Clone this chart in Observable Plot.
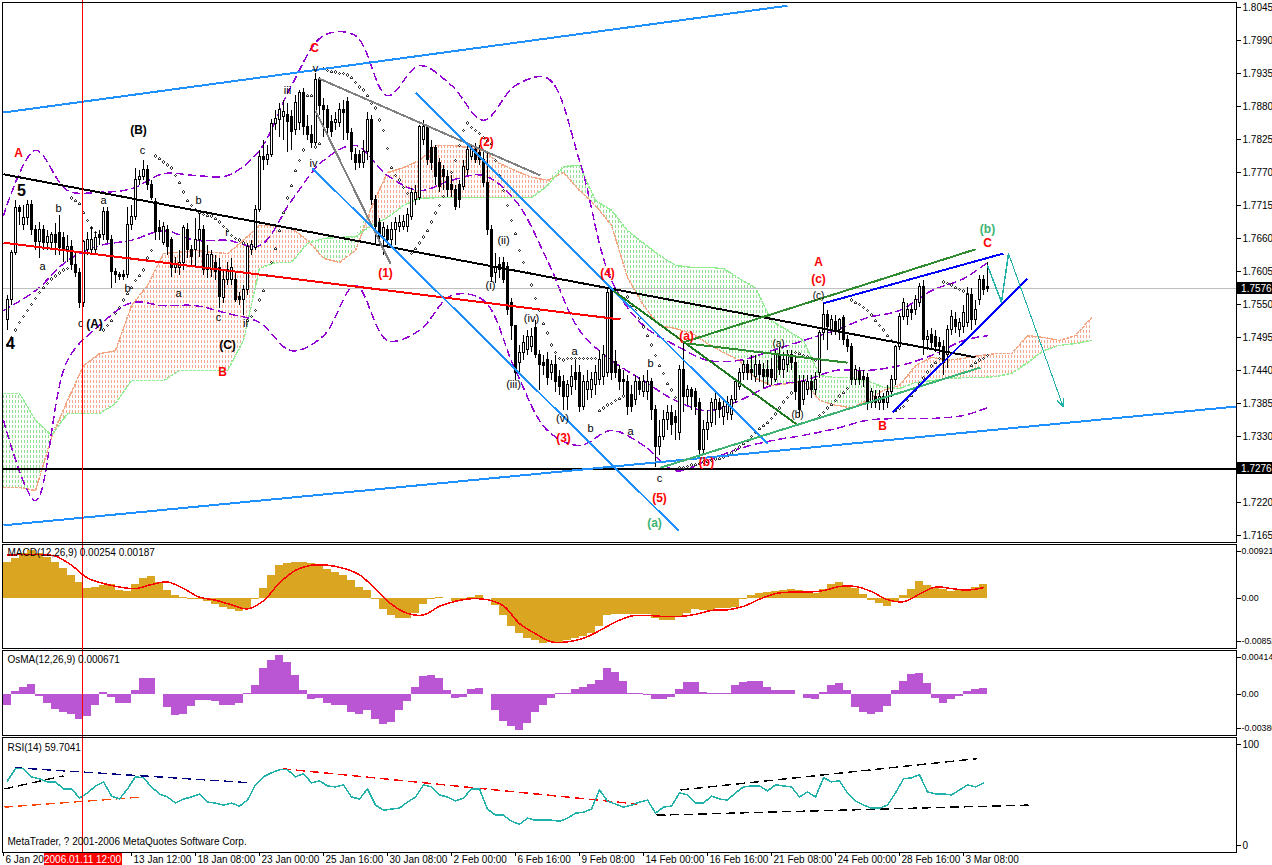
<!DOCTYPE html>
<html><head><meta charset="utf-8">
<script src="https://cdn.jsdelivr.net/npm/d3@7"></script>
<script src="https://cdn.jsdelivr.net/npm/@observablehq/plot@0.6"></script>
<style>
body{margin:0;background:#fff;}
#wrap{position:relative;width:1272px;height:865px;overflow:hidden;background:#fff;}
#wrap svg{position:absolute;left:0;}
</style></head><body><div id="wrap"></div>
<script>
// ---------- DATA (prices in pips above 1.7000; indicators in units of 0.0001) ----------
const BASE = 1.7;
const candleOpen = [524,557,636,711,682,694,715,674,654,674,652,652,665,669,660,640,645,615,602,552,640,640,640,665,665,704,657,604,599,599,599,682,695,757,762,774,749,720,677,652,674,657,610,610,619,674,640,640,657,674,607,607,619,610,560,590,590,590,562,557,574,640,644,707,795,790,799,850,857,862,865,862,840,852,902,845,832,819,924,880,874,854,852,852,874,887,835,799,799,785,804,857,724,685,662,674,657,674,679,679,679,695,724,727,824,845,810,810,785,774,762,749,740,749,745,774,795,807,802,790,752,674,602,615,619,612,552,514,452,469,474,479,510,465,452,457,435,449,429,420,395,412,435,435,379,407,407,415,424,429,435,574,454,440,424,420,399,390,420,404,404,420,374,312,329,357,369,362,335,440,395,407,404,385,307,340,352,374,385,362,369,365,390,412,435,449,440,429,449,440,440,440,424,465,440,449,465,452,420,390,407,420,407,435,502,532,507,520,507,527,490,479,424,437,429,427,385,395,385,395,385,404,424,479,529,529,540,540,552,579,490,499,495,485,479,465,507,524,507,512,519,565,524,557,590,579];
const candleHigh = [565,640,724,715,715,724,724,682,687,682,674,670,685,699,670,665,657,635,610,657,670,679,670,674,712,712,665,610,604,607,712,715,777,774,790,782,757,727,690,687,682,662,629,640,682,685,649,694,702,682,649,640,632,627,607,620,627,604,570,582,652,657,715,807,824,815,859,874,885,890,885,874,899,907,910,865,849,935,929,894,882,865,870,885,890,895,844,810,807,824,870,865,732,694,687,682,687,695,699,699,710,744,749,849,857,849,824,815,794,782,774,765,749,757,790,815,815,819,815,807,802,682,635,629,629,620,560,515,482,499,507,510,524,474,465,470,457,465,440,432,424,449,457,449,432,440,437,449,474,482,579,579,474,449,440,432,415,432,429,432,440,427,382,357,374,382,382,374,449,485,415,412,410,394,357,374,394,402,394,390,397,399,427,444,457,457,465,465,457,452,457,460,474,479,470,474,474,465,432,432,432,432,437,507,554,540,532,532,527,532,499,485,449,445,440,435,410,407,407,402,415,432,482,535,560,552,549,565,585,590,507,510,507,495,490,515,540,537,527,549,579,577,557,599,599,620];
const candleLow = [507,549,632,682,674,682,665,640,627,640,640,644,632,632,620,620,607,595,544,545,632,635,632,649,657,652,577,585,590,590,594,674,690,749,757,740,724,657,657,649,632,595,602,599,607,627,615,612,629,599,594,595,590,544,552,582,582,554,549,532,565,632,640,704,774,782,795,840,829,824,804,807,832,840,832,824,810,815,865,829,832,829,840,845,824,824,790,774,777,777,790,715,649,649,632,644,649,649,670,674,670,690,715,724,815,782,774,749,737,740,729,729,707,710,740,765,790,785,782,745,665,587,585,594,585,532,490,424,432,457,465,470,460,407,432,415,424,404,399,374,374,399,407,370,374,390,394,399,415,415,429,424,427,407,399,365,370,382,399,395,390,357,279,299,324,340,332,324,324,370,382,374,365,299,302,324,345,349,360,349,357,357,385,407,424,424,424,420,420,410,415,415,420,432,427,437,440,390,362,382,399,394,399,427,490,474,499,499,490,482,470,415,415,415,412,374,377,377,374,374,377,395,415,474,524,515,524,532,545,465,474,474,470,465,432,444,499,502,495,502,512,507,515,549,565,570];
const candleClose = [557,636,711,704,694,715,674,654,674,652,662,665,652,644,640,645,615,602,552,654,657,657,660,660,704,657,604,599,595,595,682,695,757,762,774,749,727,670,670,679,645,610,615,619,677,640,629,657,674,607,632,632,604,562,590,607,610,557,557,574,645,649,707,795,790,799,850,859,874,870,854,837,885,902,845,832,819,924,880,874,844,837,857,874,869,835,804,785,785,804,857,724,679,662,677,657,674,685,685,687,699,735,735,845,845,790,785,762,745,762,740,740,712,724,779,807,807,790,790,752,674,595,612,607,590,540,514,435,469,485,495,495,465,449,447,427,449,420,412,395,415,429,424,379,420,420,424,435,457,465,569,435,435,420,420,379,379,420,407,420,420,374,312,329,357,369,349,352,440,395,407,395,379,307,340,352,385,390,374,379,385,390,420,435,449,435,435,449,432,429,429,427,465,440,457,465,452,404,374,420,420,407,424,502,532,512,524,507,524,490,479,424,440,424,424,385,404,385,395,385,404,424,479,529,552,540,535,557,579,490,495,485,479,479,452,507,529,512,519,535,565,524,540,590,574,576];
const sarValues = [482,495,507,520,530,540,550,560,570,578,585,592,597,602,607,610,727,723,718,703,690,678,670,662,507,515,523,535,545,557,568,578,590,598,607,627,640,797,793,787,782,777,765,753,737,723,715,708,703,700,698,697,693,687,680,673,665,660,657,652,523,530,540,557,573,598,620,643,673,703,727,748,773,790,807,898,898,812,818,943,940,938,937,935,935,932,928,920,912,907,898,885,877,857,840,810,778,765,757,745,735,635,643,652,662,673,687,702,715,730,748,770,790,815,840,852,845,840,835,828,823,818,790,765,740,715,690,668,640,620,603,582,560,540,518,502,482,470,460,457,460,460,460,460,460,460,460,460,373,377,382,385,390,393,397,562,548,540,527,512,498,482,465,448,435,418,407,395,278,278,280,282,283,285,287,288,290,292,293,295,298,302,307,312,318,323,330,337,343,348,353,360,367,377,387,395,402,470,468,465,462,460,457,365,370,377,383,390,397,403,410,557,553,550,545,540,532,523,515,507,498,490,373,377,380,390,398,407,417,427,437,447,453,460,587,585,582,578,575,572,568,448,453,457,460,465];
const bandBars = [0,8,16,24,32,40,48,56,64,72,80,88,96,104,112,120,128,136,144,152,160,168,176,184,192,200,208,216,224,232,240,246];
const bandUpper = [698,807,740,737,743,768,765,765,807,915,998,998,898,948,915,857,915,927,790,590,515,482,457,457,473,490,507,528,540,573,593,620];
const bandMiddle = [540,573,623,648,657,673,657,657,648,723,790,815,765,740,757,765,723,623,507,457,423,390,373,390,415,423,440,440,448,465,490,498];
const bandLower = [357,223,457,515,553,548,548,535,520,473,498,582,490,507,565,557,440,340,315,340,315,273,290,310,323,332,343,357,360,360,365,378];
// Ichimoku spans, one value every 4 bars from bar 0
const cloudSpanA = [245,245,240,328,390,448,468,473,548,582,635,637,640,637,635,657,682,682,677,657,627,620,640,712,770,778,790,815,815,812,807,785,773,762,757,770,740,715,682,595,548,515,510,502,485,470,457,427,415,418,423,390,382,378,390,407,415,448,462,457,460,465,468,468,498,495,490,498,528];
const cloudSpanB = [402,402,357,332,368,368,368,385,423,423,423,440,440,440,440,490,610,620,620,652,660,662,663,682,695,715,727,728,728,728,728,728,728,728,748,780,782,723,707,673,652,632,615,612,612,610,593,578,523,507,490,432,428,428,423,412,410,420,423,427,428,428,430,435,453,473,482,485,490];
// indicator samples every 2 bars starting at bar 1
const macdMain = [71,78,88,94,88,81,71,58,45,30,20,22,26,28,15,14,28,38,43,30,15,5,2,-2,-3,-7,-12,-18,-22,-26,-20,-2,20,45,64,69,71,71,69,64,56,50,45,35,22,15,-3,-22,-35,-41,-40,-30,-12,-3,1,0,-6,-5,2,5,0,-14,-35,-55,-70,-80,-84,-90,-88,-87,-84,-80,-75,-70,-55,-35,-32,-32,-33,-33,-33,-40,-43,-43,-38,-30,-22,-25,-24,-21,-21,-18,-3,5,9,12,14,15,17,15,10,9,18,27,30,26,19,8,-4,-10,-16,-8,5,18,32,25,21,18,14,15,18,22,28];
// signal samples every 4 bars starting at bar 1
const macdSignal = [85,86,86,83,65,40,29,22,19,27,32,19,2,-4,-13,-21,-5,30,55,65,65,59,46,18,-12,-30,-33,-16,-6,-1,-3,-15,-50,-70,-86,-86,-79,-64,-47,-35,-34,-36,-36,-32,-24,-23,-16,-2,9,12,12,15,23,23,13,-3,-7,8,22,19,16,21];
const osmaValues = [-12,3,8,11,-2,-10,-17,-20,-22,-28,-25,-12,2,-3,-10,-10,5,18,18,0,-15,-24,-22,-14,-7,-7,-8,-12,-12,-10,1,10,29,38,44,36,21,5,-6,-4,-10,-12,-12,-20,-22,-18,-28,-34,-31,-18,-8,8,20,21,18,5,-4,-3,6,7,0,-18,-30,-36,-40,-32,-20,-12,-4,1,1,6,8,11,16,29,25,15,1,1,-1,-6,-6,-3,6,13,13,2,1,1,1,10,13,15,15,8,5,5,5,0,-5,-6,2,10,12,4,-15,-20,-22,-20,-14,5,14,22,24,12,-4,-10,-6,-2,3,6,7];
const rsiValues = [64,76,76,68,66,63,63,56,56,47,52,59,63,49,46,56,68,67,58,51,48,42,46,48,51,43,42,40,42,39,45,60,68,72,75,75,68,71,62,64,59,58,60,48,46,56,40,35,36,37,43,48,60,58,50,48,44,47,56,56,36,30,30,24,21,27,25,25,25,24,27,32,33,36,55,44,41,38,40,43,45,32,38,39,52,50,42,42,49,46,45,52,58,59,59,54,60,59,58,48,53,48,67,63,64,52,44,40,37,37,40,52,66,67,70,53,51,51,50,55,60,58,62];
const priceTicks = [1045,990,935,880,825,770,715,660,605,550,495,440,385,330,220,165];
const markedPrices = [576,276];
const timeTickBars = [0,16,32,48,64,80,96,112,128,144,160,176,192,208,224,240];
const timeLabelBars = [0,32,48,64,80,96,112,128,144,160,176,192,208,224,240];
const timeLabelText = ["6 Jan 2006","13 Jan 12:00","18 Jan 08:00","23 Jan 00:00","25 Jan 16:00","30 Jan 08:00","2 Feb 00:00","6 Feb 16:00","9 Feb 08:00","14 Feb 00:00","16 Feb 16:00","21 Feb 08:00","24 Feb 00:00","28 Feb 16:00","3 Mar 08:00"];
const cursorBar = 19.75;
const cursorText = "2006.01.11 12:00";
const trendAnchors = [
  ["channelTop",0,870,196,1048],["channelBottom",0,182,308.25,380],
  ["blackDiag",0,767,243,462],["redDiag",0,653,154.25,525],
  ["grayTop",78.75,927,134.25,765],["grayDrop",78,873,96.75,618],
  ["blueFall1",103,903,191,318],["blueFall2",77.25,777,168.75,173],
  ["greenFall",152.5,573,198.75,348],["greenRise",170,487,243,642],
  ["greenFlat",171,485,211,453],["greenBase",164.25,278,244.25,445],
  ["wedgeTop",205,552,250,635],["wedgeBottom",222.25,370,256,593]
];
const projection = [[246,615],[249.5,554],[251.25,635],[264.9,380]];
const rsiTrend = [
  ["navy",2.75,77,62,62],["black",0.25,56,15,69],["orange",0.25,38,34.5,48],
  ["red",69.75,76,158.5,41],["black",169.25,55,243.5,86],["black",163.25,30,256.25,40]
];
const waveLabels = [
  ["A",3.75,802,"red"],["5",4.5,740,"big"],["4",1.75,485,"big"],["(B)",33.75,840,"bold"],["c",34.75,807,"plain"],
  ["a",9.75,613,"plain"],["b",13.75,710,"plain"],["a",25,723,"plain"],["b",31,577,"plain"],["c",19.3,518,"plain"],
  ["(A)",22.75,518,"bold"],["b",48.75,723,"plain"],["a",43.75,568,"plain"],["c",53.75,528,"plain"],["(C)",56,482,"bold"],
  ["B",54.75,437,"red"],["i",55.75,670,"plain"],["ii",60.5,518,"plain"],["iii",71,907,"plain"],["iv",77.5,785,"plain"],
  ["v",78,943,"plain"],["C",77.75,977,"red"],["(1)",95.5,602,"red"],["(2)",120.75,820,"red"],["(i)",121.75,582,"plain"],
  ["(ii)",125,657,"plain"],["(iii)",127.5,417,"plain"],["(iv)",132,527,"plain"],["(v)",139.75,360,"plain"],["a",142.75,472,"plain"],
  ["b",146.75,343,"plain"],["(3)",140,328,"red"],["(4)",151,603,"red"],["b",161.75,452,"plain"],["a",156.75,338,"plain"],
  ["c",164,260,"plain"],["(5)",164,228,"red"],["(a)",162.75,185,"green"],["(a)",170.75,498,"red"],["(b)",175.75,287,"red"],
  ["(a)",193.75,485,"small"],["(b)",198.5,367,"small"],["(c)",203.75,565,"small"],["A",203.75,620,"red"],["(c)",203.75,593,"red"],
  ["B",219.75,348,"red"],["(b)",246,675,"green"],["C",246,653,"red"]
];

// ---------- DRAWING ----------
const W = 1272, xDomain = [-0.25, 308.25];
const FONT = '"Liberation Sans", Arial, sans-serif';
const baseStyle = {fontFamily: FONT, fontSize: "10px", background: "transparent", overflow: "visible", color: "black"};
const fmtP = v => (BASE + v / 10000).toFixed(4);
const fmtI = v => v === 0 ? "0.00" : (v / 10000).toFixed(5);
const wrap = document.getElementById("wrap");
function place(svg, top) { svg.style.top = top + "px"; svg.setAttribute("shape-rendering", "crispEdges"); wrap.appendChild(svg); return svg; }

const bars = candleClose.map((c, k) => ({i: k + 1, o: candleOpen[k], h: candleHigh[k], l: candleLow[k], c}));
const bodyLo = d => { const lo = Math.min(d.o, d.c), hi = Math.max(d.o, d.c); return hi - lo < 1 ? lo - 0.6 : lo; };
const bodyHi = d => { const lo = Math.min(d.o, d.c), hi = Math.max(d.o, d.c); return hi - lo < 1 ? hi + 0.6 : hi; };
const cloud = cloudSpanA.map((a, k) => ({i: k * 4, a, b: cloudSpanB[k]}));
const bands = bandBars.map((i, k) => ({i, u: bandUpper[k], m: bandMiddle[k], l: bandLower[k]}));
const sar = sarValues.map((v, k) => ({i: k + 1, v}));
const trendStyle = {
  channelTop: ["#1e90ff", 2], channelBottom: ["#1e90ff", 2], blackDiag: ["#000", 2], redDiag: ["#ff0000", 2],
  grayTop: ["#808080", 2], grayDrop: ["#808080", 2], blueFall1: ["#1e90ff", 2], blueFall2: ["#1e90ff", 2],
  greenFall: ["#1f7a1f", 2], greenRise: ["#2e8b2e", 2], greenFlat: ["#2e8b2e", 2], greenBase: ["#3cb371", 2],
  wedgeTop: ["#0000ff", 2], wedgeBottom: ["#0000ff", 2]
};
const labelStyle = {
  red: {fill: "#ff0000", fontWeight: "bold", fontSize: 12},
  big: {fill: "#000", fontWeight: "bold", fontSize: 16},
  bold: {fill: "#000", fontWeight: "bold", fontSize: 12},
  plain: {fill: "#000", fontSize: 11},
  small: {fill: "#000", fontSize: 10},
  green: {fill: "#3cb371", fontWeight: "bold", fontSize: 12}
};

const mainMarks = [
  Plot.areaY(cloud, {x: "i", y1: "b", y2: d => Math.max(d.a, d.b), fill: "url(#hatchSalmon)"}),
  Plot.areaY(cloud, {x: "i", y1: "a", y2: d => Math.max(d.a, d.b), fill: "url(#hatchGreen)"}),
  Plot.line(cloud, {x: "i", y: "a", stroke: "#f4a582", strokeDasharray: "2,2"}),
  Plot.line(cloud, {x: "i", y: "b", stroke: "#90ee90", strokeDasharray: "2,2"}),
  Plot.line(bands, {x: "i", y: "u", stroke: "#9400d3", strokeDasharray: "7,5", curve: "catmull-rom"}),
  Plot.line(bands, {x: "i", y: "m", stroke: "#9400d3", strokeDasharray: "7,5", curve: "catmull-rom"}),
  Plot.line(bands, {x: "i", y: "l", stroke: "#9400d3", strokeDasharray: "7,5", curve: "catmull-rom"}),
  Plot.ruleY([markedPrices[0]], {stroke: "#c0c0c0"}),
  Plot.ruleY([markedPrices[1]], {stroke: "#000", strokeWidth: 2}),
  Plot.dot(sar, {x: "i", y: "v", r: 1.3, stroke: "#000", strokeWidth: 0.8, fill: "#fff"}),
  Plot.ruleX(bars, {x: "i", y1: "l", y2: "h", stroke: "#000"}),
  Plot.rect(bars.filter(d => d.c >= d.o), {x1: d => d.i - 0.25, x2: d => d.i + 0.25, y1: bodyLo, y2: bodyHi, fill: "#fff", stroke: "#000"}),
  Plot.rect(bars.filter(d => d.c < d.o), {x1: d => d.i - 0.25, x2: d => d.i + 0.25, y1: bodyLo, y2: bodyHi, fill: "#000", stroke: "#000"}),
  ...trendAnchors.map(t => Plot.link([t], {x1: d => d[1], y1: d => d[2], x2: d => d[3], y2: d => d[4], stroke: trendStyle[t[0]][0], strokeWidth: trendStyle[t[0]][1]})),
  Plot.line(projection.slice(0, 3), {x: d => d[0], y: d => d[1], stroke: "#20b2aa"}),
  Plot.arrow([projection], {x1: d => d[2][0], y1: d => d[2][1], x2: d => d[3][0], y2: d => d[3][1], stroke: "#20b2aa", strokeWidth: 1, headLength: 12, headAngle: 50}),
  ...Object.keys(labelStyle).map(k => Plot.text(waveLabels.filter(d => d[3] === k), {x: d => d[1], y: d => d[2], text: d => d[0], fontFamily: FONT, ...labelStyle[k]})),
  Plot.ruleX([cursorBar], {y1: 150, y2: 1060, stroke: "#ff0000"}),
  Plot.frame({stroke: "#000"}),
  Plot.axisY(priceTicks, {anchor: "right", label: null, tickSize: 4, tickPadding: 2, tickFormat: fmtP, fontSize: 10}),
  Plot.rect(markedPrices, {x1: 308.6, x2: 318, y1: v => v - 10, y2: v => v + 10, fill: "#000"}),
  Plot.text(markedPrices, {x: 309.4, y: v => v, text: fmtP, fill: "#fff", textAnchor: "start", fontSize: 10})
];
const mainSvg = Plot.plot({width: W, height: 544, marginTop: 2, marginBottom: 2, marginLeft: 2, marginRight: 36,
  x: {domain: xDomain, axis: null}, y: {domain: [153.33, 1053.33]}, style: baseStyle, marks: mainMarks});
d3.select(mainSvg).insert("defs", ":first-child").html(
  '<pattern id="hatchSalmon" width="3" height="5" patternUnits="userSpaceOnUse"><rect x="0" y="0" width="1" height="3" fill="#f7a88e"/></pattern>' +
  '<pattern id="hatchGreen" width="3" height="5" patternUnits="userSpaceOnUse"><rect x="0" y="0" width="1" height="3" fill="#8fe08f"/></pattern>');
place(mainSvg, 0);

// MACD panel
const macdData = macdMain.map((v, k) => ({i: 1 + 2 * k, v}));
const sigData = macdSignal.map((v, k) => ({i: 1 + 4 * k, v}));
place(Plot.plot({width: W, height: 106, marginTop: 1, marginBottom: 1, marginLeft: 2, marginRight: 36,
  x: {domain: xDomain, axis: null}, y: {domain: [-99.2, 105.9]}, style: baseStyle,
  marks: [
    Plot.rect(macdData, {x1: d => d.i - 1, x2: d => d.i + 1, y1: 0, y2: "v", fill: "#daa520"}),
    Plot.line(sigData, {x: "i", y: "v", stroke: "#ff0000", curve: "catmull-rom"}),
    Plot.ruleX([cursorBar], {y1: -102, y2: 108, stroke: "#ff0000"}),
    Plot.text(["MACD(12,26,9) 0.00254 0.00187"], {frameAnchor: "top-left", dx: 5, dy: 4, lineAnchor: "top", fontSize: 10}),
    Plot.frame({stroke: "#000"}),
    Plot.axisY([92.1, 0, -85.2], {anchor: "right", label: null, tickSize: 4, tickPadding: 1, fontSize: 8.8, tickFormat: fmtI})
  ]}), 543);

// OsMA panel
const osmaData = osmaValues.map((v, k) => ({i: 1 + 2 * k, v}));
place(Plot.plot({width: W, height: 87, marginTop: 1, marginBottom: 1, marginLeft: 2, marginRight: 36,
  x: {domain: xDomain, axis: null}, y: {domain: [-45.9, 49.2]}, style: baseStyle,
  marks: [
    Plot.rect(osmaData, {x1: d => d.i - 1, x2: d => d.i + 1, y1: 0, y2: "v", fill: "#ba55d3"}),
    Plot.ruleX([cursorBar], {y1: -48, y2: 51, stroke: "#ff0000"}),
    Plot.text(["OsMA(12,26,9) 0.000671"], {frameAnchor: "top-left", dx: 5, dy: 5, lineAnchor: "top", fontSize: 10}),
    Plot.frame({stroke: "#000"}),
    Plot.axisY([41.4, 0, -38.0], {anchor: "right", label: null, tickSize: 4, tickPadding: 1, fontSize: 8.8, tickFormat: fmtI})
  ]}), 649);

// RSI panel + time axis
const rsiData = rsiValues.map((v, k) => ({i: 1 + 2 * k, v}));
const timeLabels = timeLabelBars.map((i, k) => ({i, t: timeLabelText[k]}));
const dashColor = {navy: "#000080", black: "#000", orange: "#ff4500", red: "#ff0000"};
place(Plot.plot({width: W, height: 130, marginTop: 1, marginBottom: 14, marginLeft: 2, marginRight: 36,
  x: {domain: xDomain, axis: null}, y: {domain: [-6.93, 106.9]}, style: baseStyle,
  marks: [
    ...rsiTrend.map(t => Plot.link([t], {x1: d => d[1], y1: d => d[2], x2: d => d[3], y2: d => d[4], stroke: dashColor[t[0]], strokeWidth: 1.4, strokeDasharray: "9,5"})),
    Plot.line(rsiData, {x: "i", y: "v", stroke: "#20b2aa"}),
    Plot.ruleX([cursorBar], {y1: -8, y2: 108, stroke: "#ff0000"}),
    Plot.text(["RSI(14) 59.7041"], {frameAnchor: "top-left", dx: 5, dy: 6, lineAnchor: "top", fontSize: 10}),
    Plot.text(["MetaTrader, ? 2001-2006 MetaQuotes Software Corp."], {frameAnchor: "bottom-left", dx: 5, dy: -8, lineAnchor: "bottom", fontSize: 10}),
    Plot.frame({stroke: "#000"}),
    Plot.axisY([100, 0], {anchor: "right", label: null, tickSize: 4, tickPadding: 2, fontSize: 10}),
    Plot.ruleX(timeTickBars, {x: d => d, y1: -6.93, y2: -10.9, stroke: "#000"}),
    Plot.text(timeLabels, {x: "i", y: -14.2, text: "t", textAnchor: "start", dx: 2, fontSize: 10, lineAnchor: "middle"}),
    Plot.rect([cursorBar], {x1: d => d - 9.6, x2: d => d + 9.9, y1: -7.8, y2: -19.5, fill: "#ff0000"}),
    Plot.text([cursorBar], {x: d => d, y: -14.2, text: () => cursorText, fill: "#fff", fontSize: 10, lineAnchor: "middle"})
  ]}), 736);
</script></body></html>
